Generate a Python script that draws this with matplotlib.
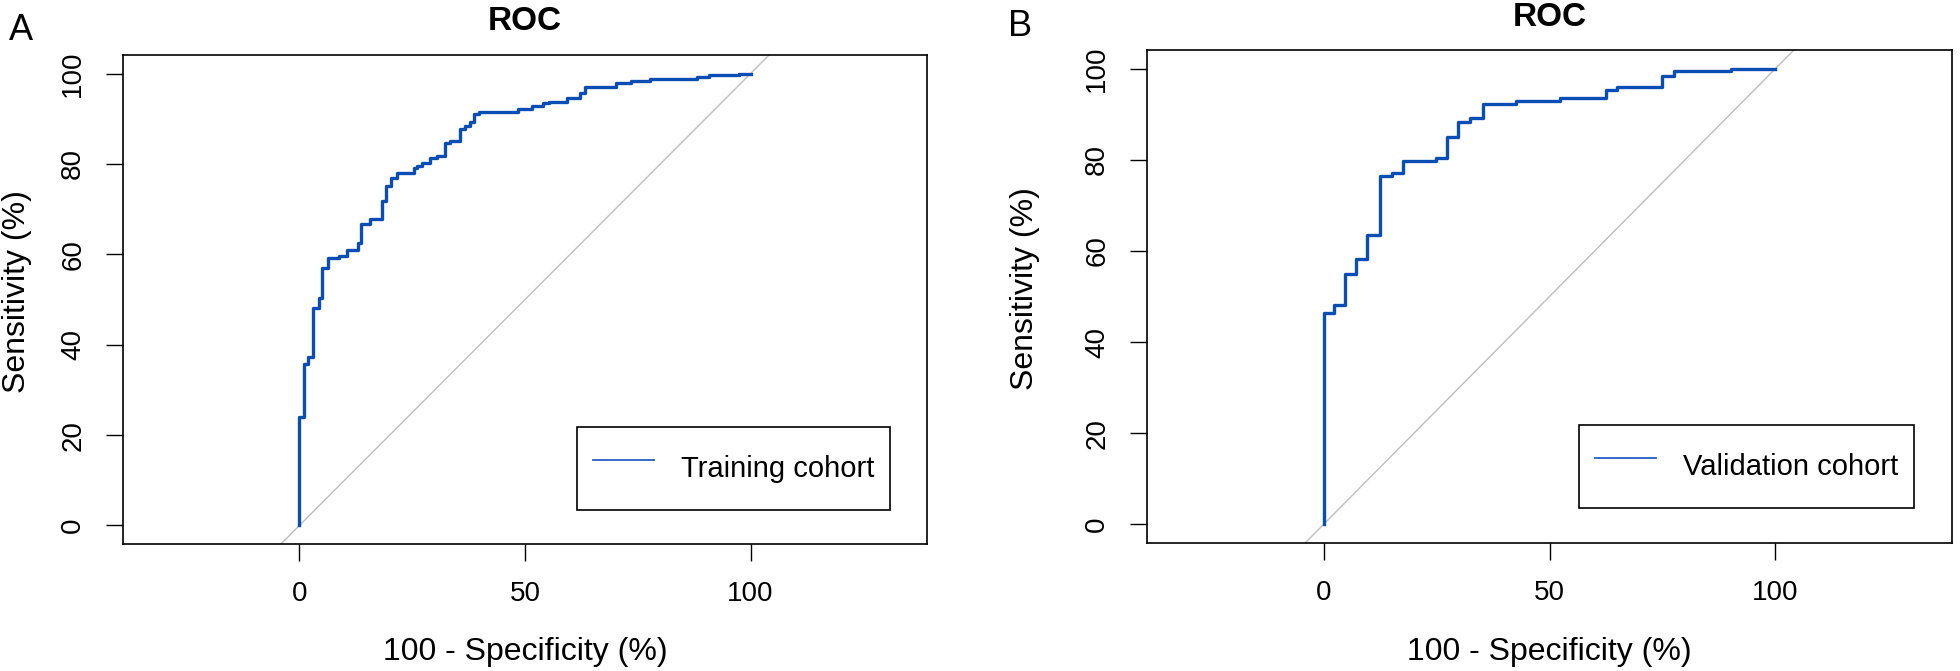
import matplotlib.pyplot as plt
from matplotlib.lines import Line2D

plt.rcParams['font.family'] = ['Liberation Sans', 'DejaVu Sans']

# ROC steps: 100 - specificity (%), sensitivity (%)
train_fpr = [0, 0, 1.0, 1.8, 3.0, 4.3, 5.0, 6.4, 8.7, 10.6, 12.9, 13.7, 15.7, 18.2,
             19.1, 20.4, 21.7, 25.3, 26.1, 27.2, 29.0, 30.4, 32.2, 33.3, 35.5, 36.7,
             37.8, 38.8, 39.8, 48.4, 51.6, 54.0, 55.3, 59.4, 62.3, 63.4, 70.1, 73.4,
             77.7, 88.2, 90.8, 97.4, 100]
train_tpr = [0, 23.9, 35.7, 37.2, 48.2, 50.3, 57.0, 59.2, 59.6, 60.9, 62.6, 66.6, 67.8,
             71.8, 75.2, 76.8, 78.1, 79.0, 79.5, 80.3, 81.4, 81.8, 84.6, 85.1, 87.7,
             88.4, 89.3, 91.0, 91.5, 92.1, 92.9, 93.4, 93.8, 94.5, 95.7, 97.0, 97.8,
             98.4, 98.9, 99.2, 99.6, 100, 100]

valid_fpr = [0, 0, 2.2, 4.8, 7.2, 9.7, 12.5, 15.2, 17.5, 24.9, 27.3, 29.8, 32.5, 35.2,
             42.5, 52.4, 62.6, 65.0, 74.9, 77.5, 90.2, 100]
valid_tpr = [0, 46.4, 48.2, 55.0, 58.3, 63.6, 76.4, 77.2, 79.7, 80.5, 84.9, 88.3, 89.2,
             92.2, 92.8, 93.6, 95.4, 96.0, 98.4, 99.5, 100, 100]

panel_letters = ['A', 'B']
cohort_names = ['Training cohort', 'Validation cohort']
xticks = [0, 50, 100]
yticks = [0, 20, 40, 60, 80, 100]

W, H = 1960, 671
fig = plt.figure(figsize=(W / 100, H / 100), dpi=100)

# pixel layout (left, top, right, bottom) of each plot box
boxes = [(123, 55, 927, 544), (1147, 50, 1952, 543)]
legend_anchor = [(577, 427), (1579, 425)]
title_pos = [(525, 21), (1550, 18)]
ylab_x = [17, 1025]
letter_pos = [(21, 30), (1020, 26)]

curves = [(train_fpr, train_tpr), (valid_fpr, valid_tpr)]
blue = '#0a4db4'

for i in range(2):
    l, t, r, b = boxes[i]
    ax = fig.add_axes([l / W, 1 - b / H, (r - l) / W, (b - t) / H])
    fpr, tpr = curves[i]
    ax.plot([-10, 110], [-10, 110], color='#bebebe', lw=1.0, zorder=1)
    ax.plot(fpr, tpr, color=blue, lw=2.4, drawstyle='steps-post', zorder=2)
    ax.set_xlim(-39.1, 139.1)
    ax.set_ylim(-4.1, 104.1)
    ax.set_xticks(xticks)
    ax.set_yticks(yticks)
    ax.tick_params(length=12, width=1.0, labelsize=20, pad=14.5, direction='out')
    plt.setp(ax.get_yticklabels(), rotation=90, va='center')
    for s in ax.spines.values():
        s.set_linewidth(1.2)

    handle = Line2D([], [], color='#2460c4', lw=1.3)
    leg = ax.legend([handle], [cohort_names[i]], loc='upper left',
                    bbox_to_anchor=(legend_anchor[i][0] / W, 1 - legend_anchor[i][1] / H),
                    bbox_transform=fig.transFigure, borderaxespad=0, fontsize=21,
                    fancybox=False, framealpha=1, edgecolor='black', borderpad=0.55,
                    handlelength=2.1, handleheight=2.3, handletextpad=0.9)
    leg.get_frame().set_linewidth(1.2)

    fig.text(title_pos[i][0] / W, 1 - title_pos[i][1] / H, 'ROC', fontsize=24,
             fontweight='bold', ha='center', va='center')
    fig.text(ylab_x[i] / W, 1 - (t + b) / 2 / H + 0.012, 'Sensitivity (%)', fontsize=23,
             rotation=90, ha='center', va='center')
    fig.text((l + r) / 2 / W, 1 - 652 / H, '100 - Specificity (%)', fontsize=23,
             ha='center', va='center')
    fig.text(letter_pos[i][0] / W, 1 - letter_pos[i][1] / H, panel_letters[i],
             fontsize=26, ha='center', va='center')

fig.savefig('out.png', dpi=100)
